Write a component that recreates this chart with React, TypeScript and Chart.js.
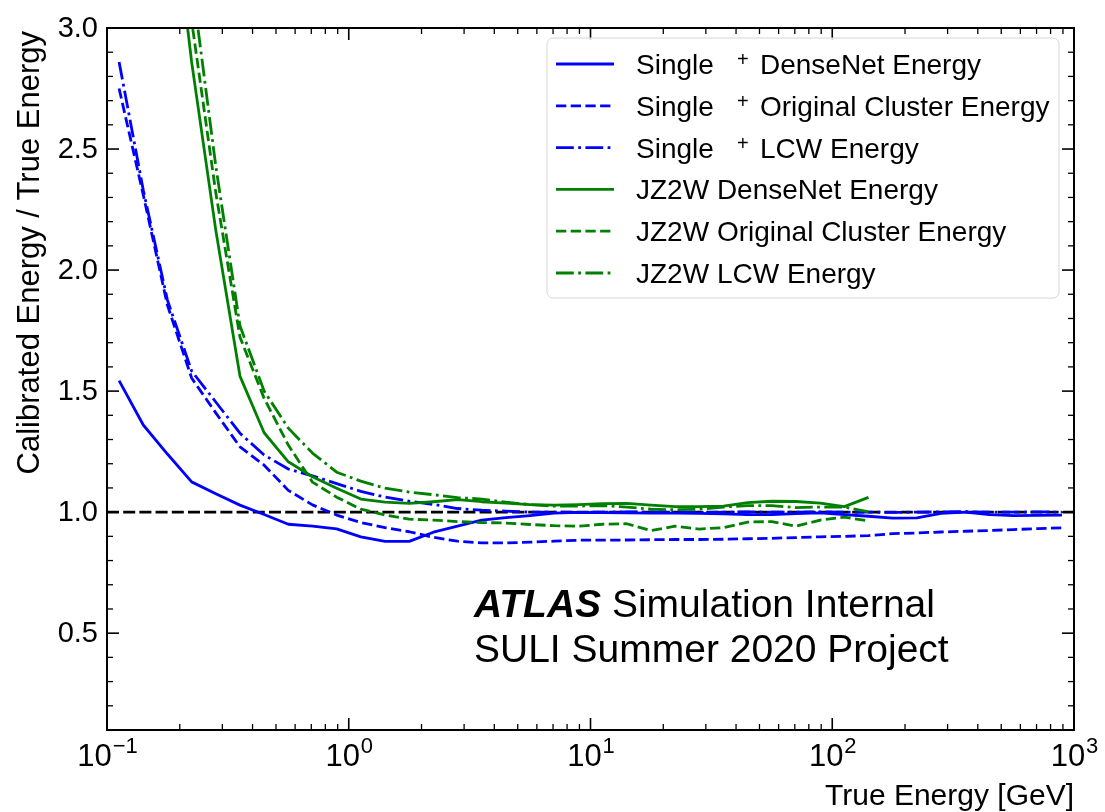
import React, { useEffect, useRef } from "react";
import { Chart, registerables } from "chart.js";

Chart.register(...registerables);

// True energy bin centres [GeV]
const trueEnergy = [
  0.1122, 0.1413, 0.1778, 0.2239, 0.2818, 0.3548, 0.4467, 0.5623, 0.7079, 0.8913,
  1.122, 1.413, 1.778, 2.239, 2.818, 3.548, 4.467, 5.623, 7.079, 8.913,
  11.22, 14.13, 17.78, 22.39, 28.18, 35.48, 44.67, 56.23, 70.79, 89.13,
  112.2, 141.3, 177.8, 223.9, 281.8, 354.8, 446.7, 562.3, 707.9, 891.3,
];

const singleDenseNet = [
  1.543, 1.36, 1.24, 1.125, 1.076, 1.029, 0.99, 0.95, 0.942, 0.931,
  0.898, 0.879, 0.879, 0.917, 0.942, 0.967, 0.977, 0.986, 0.996, 0.999,
  0.998, 0.997, 0.996, 0.996, 0.995, 0.993, 0.99, 0.99, 0.994, 0.997,
  0.99, 0.983, 0.975, 0.976, 0.995, 1.0, 0.99, 0.986, 0.987, 0.988,
];
const singleOriginal = [
  2.75, 2.31, 1.855, 1.554, 1.41, 1.27, 1.194, 1.09, 1.03, 0.988,
  0.957, 0.936, 0.919, 0.896, 0.88, 0.873, 0.873, 0.876, 0.88, 0.884,
  0.884, 0.885, 0.886, 0.887, 0.887, 0.888, 0.89, 0.892, 0.895, 0.898,
  0.9, 0.903, 0.911, 0.914, 0.918, 0.921, 0.924, 0.928, 0.932, 0.935,
];
const singleLCW = [
  2.86, 2.33, 1.876, 1.583, 1.455, 1.326, 1.236, 1.178, 1.15, 1.118,
  1.086, 1.062, 1.045, 1.032, 1.015, 1.008, 1.004, 1.0, 1.0, 0.999,
  1.0, 1.001, 1.0, 1.0, 0.999, 1.0, 1.001, 1.0, 1.0, 1.001,
  1.0, 1.0, 0.999, 1.0, 1.001, 1.002, 1.0, 1.0, 1.001, 1.0,
];
const jz2wDenseNet = [
  5.6, 4.7, 3.7, 2.86, 2.165, 1.562, 1.328, 1.208, 1.146, 1.099,
  1.054, 1.041, 1.036, 1.043, 1.052, 1.043, 1.037, 1.031, 1.029, 1.031,
  1.035, 1.036, 1.029, 1.023, 1.023, 1.025, 1.039, 1.045, 1.044, 1.037,
  1.023, 1.061,
];
const jz2wOriginal = [
  6.2, 5.2, 4.0, 3.03, 2.32, 1.723, 1.47, 1.277, 1.124, 1.062,
  1.012, 0.988, 0.971, 0.967, 0.961, 0.957, 0.955, 0.949, 0.944, 0.942,
  0.95, 0.952, 0.924, 0.942, 0.93, 0.936, 0.959, 0.961, 0.942, 0.967,
  0.979, 0.964,
];
const jz2wLCW = [
  6.5, 5.5, 4.3, 3.2, 2.43, 1.77, 1.5, 1.347, 1.244, 1.165,
  1.128, 1.099, 1.083, 1.072, 1.06, 1.054, 1.041, 1.031, 1.025, 1.025,
  1.027, 1.021, 1.012, 1.01, 1.012, 1.021, 1.027, 1.027, 1.019, 1.021,
  1.021, 1.001,
];

const referenceX = [0.1, 1000];
const referenceY = [1.0, 1.0];

const yMajorTicks = [0.5, 1.0, 1.5, 2.0, 2.5, 3.0];
const yTickLabels = ["0.5", "1.0", "1.5", "2.0", "2.5", "3.0"];
const yMinorTicks = [0.1, 0.2, 0.3, 0.4, 0.6, 0.7, 0.8, 0.9, 1.1, 1.2, 1.3, 1.4, 1.6, 1.7, 1.8, 1.9, 2.1, 2.2, 2.3, 2.4, 2.6, 2.7, 2.8, 2.9];
const xMajorTicks = [0.1, 1, 10, 100, 1000];
const xTickExponents = ["\u22121", "0", "1", "2", "3"];
const xMinorMultipliers = [2, 3, 4, 5, 6, 7, 8, 9];

const legendLabels = [
  { head: "Single", sup: "+", tail: "DenseNet Energy" },
  { head: "Single", sup: "+", tail: "Original Cluster Energy" },
  { head: "Single", sup: "+", tail: "LCW Energy" },
  { head: "JZ2W DenseNet Energy", sup: "", tail: "" },
  { head: "JZ2W Original Cluster Energy", sup: "", tail: "" },
  { head: "JZ2W LCW Energy", sup: "", tail: "" },
];

const FONT = '"Liberation Sans", Arial, Helvetica, sans-serif';
const BLUE = "#0000ff";
const GREEN = "#008000";
const LW = 2.8;
const DASHED = [10.3, 4.4];
const DASHDOT = [17.8, 4.4, 2.8, 4.4];

function pts(xs: number[], ys: number[]) {
  return ys.map((y, i) => ({ x: xs[i], y }));
}

const decorPlugin = {
  id: "decor",
  afterDatasetsDraw(chart: any) {
    const { ctx, chartArea: a, scales } = chart;
    const xs = scales.x;
    const ys = scales.y;
    ctx.save();
    ctx.strokeStyle = "#000";
    ctx.fillStyle = "#000";

    const tick = (x1: number, y1: number, x2: number, y2: number, w: number) => {
      ctx.lineWidth = w;
      ctx.beginPath();
      ctx.moveTo(x1, y1);
      ctx.lineTo(x2, y2);
      ctx.stroke();
    };
    const MAJ = 12;
    const MIN = 6;
    for (const d of xMajorTicks.slice(0, -1)) {
      for (const m of xMinorMultipliers) {
        const px = xs.getPixelForValue(d * m);
        tick(px, a.bottom, px, a.bottom - MIN, 1.3);
        tick(px, a.top, px, a.top + MIN, 1.3);
      }
    }
    for (const v of xMajorTicks) {
      const px = xs.getPixelForValue(v);
      tick(px, a.bottom, px, a.bottom - MAJ, 1.6);
      tick(px, a.top, px, a.top + MAJ, 1.6);
    }
    for (const v of yMinorTicks) {
      const py = ys.getPixelForValue(v);
      tick(a.left, py, a.left + MIN, py, 1.3);
      tick(a.right, py, a.right - MIN, py, 1.3);
    }
    for (const v of yMajorTicks) {
      const py = ys.getPixelForValue(v);
      tick(a.left, py, a.left + MAJ, py, 1.6);
      tick(a.right, py, a.right - MAJ, py, 1.6);
    }

    // frame
    ctx.lineWidth = 2;
    ctx.strokeRect(a.left, a.top, a.right - a.left, a.bottom - a.top);

    // y tick labels
    ctx.font = `29px ${FONT}`;
    ctx.textAlign = "right";
    ctx.textBaseline = "middle";
    yMajorTicks.forEach((v, i) => {
      ctx.fillText(yTickLabels[i], a.left - 9, ys.getPixelForValue(v) + 1);
    });

    // x tick labels 10^n
    ctx.textAlign = "left";
    ctx.textBaseline = "alphabetic";
    xMajorTicks.forEach((v, i) => {
      const px = xs.getPixelForValue(v);
      ctx.font = `31px ${FONT}`;
      const w1 = ctx.measureText("10").width;
      ctx.font = `22px ${FONT}`;
      const w2 = ctx.measureText(xTickExponents[i]).width;
      const start = px - (w1 + w2) / 2;
      ctx.font = `31px ${FONT}`;
      ctx.fillText("10", start, a.bottom + 36);
      ctx.font = `22px ${FONT}`;
      ctx.fillText(xTickExponents[i], start + w1 + 1, a.bottom + 23);
    });

    // axis titles
    ctx.font = `30px ${FONT}`;
    ctx.textAlign = "right";
    ctx.textBaseline = "alphabetic";
    ctx.fillText("True Energy [GeV]", a.right, 805);
    ctx.save();
    ctx.font = `31px ${FONT}`;
    ctx.translate(39, a.top + 3);
    ctx.rotate(-Math.PI / 2);
    ctx.textAlign = "right";
    ctx.fillText("Calibrated Energy / True Energy", 0, 0);
    ctx.restore();

    // ATLAS label
    ctx.textAlign = "left";
    ctx.font = `italic bold 39px ${FONT}`;
    ctx.fillText("ATLAS", 474, 617);
    const wA = ctx.measureText("ATLAS").width;
    ctx.font = `39px ${FONT}`;
    ctx.fillText(" Simulation Internal", 474 + wA, 617);
    ctx.fillText("SULI Summer 2020 Project", 474, 662);

    // legend
    const lx = 547, ly = 38, lw = 512, lh = 260, r = 6;
    ctx.beginPath();
    ctx.moveTo(lx + r, ly);
    ctx.arcTo(lx + lw, ly, lx + lw, ly + lh, r);
    ctx.arcTo(lx + lw, ly + lh, lx, ly + lh, r);
    ctx.arcTo(lx, ly + lh, lx, ly, r);
    ctx.arcTo(lx, ly, lx + lw, ly, r);
    ctx.closePath();
    ctx.fillStyle = "rgba(255,255,255,0.8)";
    ctx.fill();
    ctx.lineWidth = 1;
    ctx.strokeStyle = "#d6d6d6";
    ctx.stroke();

    const metas = chart.data.datasets;
    legendLabels.forEach((lab, i) => {
      const ds = metas[i];
      const cy = 64 + i * 41.8;
      ctx.save();
      ctx.strokeStyle = ds.borderColor;
      ctx.lineWidth = ds.borderWidth;
      ctx.setLineDash(ds.borderDash || []);
      ctx.beginPath();
      ctx.moveTo(556, cy);
      ctx.lineTo(614, cy);
      ctx.stroke();
      ctx.restore();
      ctx.fillStyle = "#000";
      ctx.textAlign = "left";
      ctx.textBaseline = "alphabetic";
      ctx.font = `28px ${FONT}`;
      ctx.fillText(lab.head, 636, cy + 10);
      if (lab.sup) {
        ctx.font = `20px ${FONT}`;
        ctx.fillText(lab.sup, 737, cy + 2);
        ctx.font = `28px ${FONT}`;
        ctx.fillText(lab.tail, 760, cy + 10);
      }
    });
    ctx.restore();
  },
};

export default function App() {
  const ref = useRef<HTMLCanvasElement>(null);
  useEffect(() => {
    const canvas = ref.current;
    if (!canvas) return;
    const base = {
      borderWidth: LW,
      pointRadius: 0,
      fill: false,
      tension: 0,
      borderJoinStyle: "round" as const,
      borderCapStyle: "butt" as const,
      clip: 0,
    };
    const chart = new Chart(canvas, {
      type: "line",
      data: {
        datasets: [
          { ...base, label: "Single DenseNet", data: pts(trueEnergy, singleDenseNet), borderColor: BLUE, borderDash: [], order: 7 },
          { ...base, label: "Single Original", data: pts(trueEnergy, singleOriginal), borderColor: BLUE, borderDash: DASHED, order: 6 },
          { ...base, label: "Single LCW", data: pts(trueEnergy, singleLCW), borderColor: BLUE, borderDash: DASHDOT, order: 5 },
          { ...base, label: "JZ2W DenseNet", data: pts(trueEnergy, jz2wDenseNet), borderColor: GREEN, borderDash: [], order: 4 },
          { ...base, label: "JZ2W Original", data: pts(trueEnergy, jz2wOriginal), borderColor: GREEN, borderDash: DASHED, order: 3 },
          { ...base, label: "JZ2W LCW", data: pts(trueEnergy, jz2wLCW), borderColor: GREEN, borderDash: DASHDOT, order: 2 },
          { ...base, label: "ref", data: pts(referenceX, referenceY), borderColor: "#000", borderWidth: 2.6, borderDash: [12, 4.2], order: 8 },
        ],
      },
      options: {
        responsive: false,
        animation: false,
        events: [],
        layout: { padding: { left: 107, right: 31, top: 28, bottom: 82 } },
        scales: {
          x: { type: "logarithmic", min: 0.1, max: 1000, display: false },
          y: { type: "linear", min: 0.1, max: 3.0, display: false },
        },
        plugins: { legend: { display: false }, tooltip: { enabled: false } },
      },
      plugins: [decorPlugin],
    } as any);
    return () => chart.destroy();
  }, []);
  return (
    <div style={{ position: "absolute", left: 0, top: 0, width: 1105, height: 812, background: "#fff" }}>
      <canvas ref={ref} width={1105} height={812} style={{ display: "block" }} />
    </div>
  );
}
